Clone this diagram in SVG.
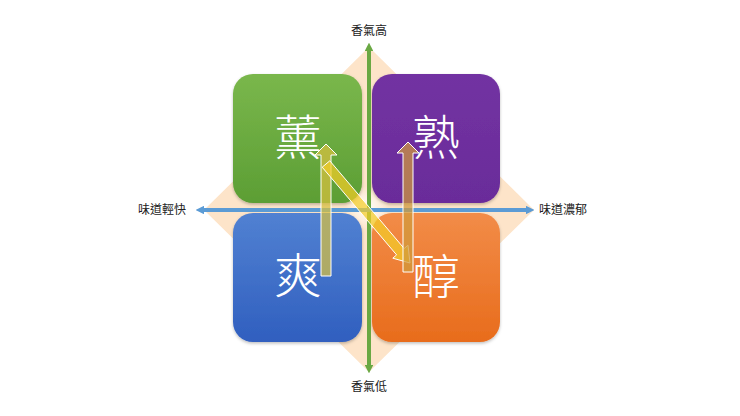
<svg xmlns="http://www.w3.org/2000/svg" width="740" height="416" viewBox="0 0 740 416">
  <defs>
    <linearGradient id="gGreen" x1="0" y1="0" x2="0" y2="1">
      <stop offset="0" stop-color="#7ab74c"/>
      <stop offset="1" stop-color="#5c9e34"/>
    </linearGradient>
    <linearGradient id="gPurple" x1="0" y1="0" x2="0" y2="1">
      <stop offset="0" stop-color="#7232a2"/>
      <stop offset="1" stop-color="#6a2c9a"/>
    </linearGradient>
    <linearGradient id="gBlue" x1="0" y1="0" x2="0" y2="1">
      <stop offset="0" stop-color="#5181d2"/>
      <stop offset="1" stop-color="#305fbf"/>
    </linearGradient>
    <linearGradient id="gOrange" x1="0" y1="0" x2="0" y2="1">
      <stop offset="0" stop-color="#f28c48"/>
      <stop offset="1" stop-color="#e86c1c"/>
    </linearGradient>
    <radialGradient id="gGlow" cx="0.5" cy="0.5" r="0.5">
      <stop offset="0" stop-color="#ffffff" stop-opacity="0.95"/>
      <stop offset="1" stop-color="#ffffff" stop-opacity="0"/>
    </radialGradient>
    <filter id="shadow" x="-10%" y="-10%" width="120%" height="125%">
      <feDropShadow dx="0" dy="1.5" stdDeviation="1.5" flood-color="#000" flood-opacity="0.25"/>
    </filter>
    <marker id="mGreen" viewBox="0 0 10 10" refX="5" refY="5" markerWidth="2.2" markerHeight="2.2" orient="auto-start-reverse" markerUnits="strokeWidth">
      <path d="M0,0 L10,5 L0,10 Z" fill="#6aa843"/>
    </marker>
    <marker id="mBlue" viewBox="0 0 10 10" refX="5" refY="5" markerWidth="2.2" markerHeight="2.2" orient="auto-start-reverse" markerUnits="strokeWidth">
      <path d="M0,0 L10,5 L0,10 Z" fill="#5b9bd5"/>
    </marker>
  </defs>
  <style>
    .box { filter: url(#shadow); }
    .big { font-family: "Noto Sans CJK TC", "Noto Sans CJK SC", sans-serif; font-size: 48px; font-weight: 300; fill: #ffffff; text-anchor: middle; }
    .lbl { font-family: "Noto Sans CJK TC", "Noto Sans CJK SC", serif; font-size: 12px; fill: #222222; }
    .blk { stroke: #ffffff; stroke-width: 1; stroke-linejoin: miter; }
  </style>
  <rect width="740" height="416" fill="#ffffff"/>

  <g id="backdrop">
    <polygon points="369,47 534,210 369,372 204,210" fill="#fde4c9"/>
    <ellipse cx="367" cy="208" rx="22" ry="22" fill="url(#gGlow)"/>
  </g>

  <g id="node-xun">
    <rect class="box" x="233" y="74" width="129" height="129" rx="20" fill="url(#gGreen)"/>
    <text class="big" x="298" y="155">薰</text>
  </g>
  <g id="node-shu">
    <rect class="box" x="372" y="74" width="128" height="129" rx="20" fill="url(#gPurple)"/>
    <text class="big" x="436" y="155">熟</text>
  </g>
  <g id="node-shuang">
    <rect class="box" x="233" y="213" width="129" height="129" rx="20" fill="url(#gBlue)"/>
    <text class="big" x="298" y="293">爽</text>
  </g>
  <g id="node-chun">
    <rect class="box" x="372" y="213" width="128" height="129" rx="20" fill="url(#gOrange)"/>
    <text class="big" x="436" y="294">醇</text>
  </g>

  <g id="axes">
    <line x1="369" y1="369" x2="369" y2="47" stroke="#6aa843" stroke-width="4" marker-start="url(#mGreen)" marker-end="url(#mGreen)"/>
    <line x1="200" y1="210" x2="530" y2="210" stroke="#5b9bd5" stroke-width="4" marker-start="url(#mBlue)" marker-end="url(#mBlue)"/>
    <text class="lbl" x="369" y="35" text-anchor="middle">香氣高</text>
    <text class="lbl" x="369" y="391" text-anchor="middle">香氣低</text>
    <text class="lbl" x="186" y="214" text-anchor="end">味道輕快</text>
    <text class="lbl" x="539" y="214">味道濃郁</text>
  </g>

  <g id="connectors">
    <polygon class="blk" points="321,276 331,276 331,155 337,155 326,144 315,155 321,155" fill="#d8c040" fill-opacity="0.72"/>
    <polygon class="blk" points="322.2,167.2 329.8,160.8 404.2,248.5 408,245.2 410,263 392.8,258.2 396.6,254.9" fill="#f2cc28" fill-opacity="0.72"/>
    <polygon class="blk" points="403,272 413,272 413,153 419,153 408,142 397,153 403,153" fill="#d09a3c" fill-opacity="0.72"/>
  </g>
</svg>
